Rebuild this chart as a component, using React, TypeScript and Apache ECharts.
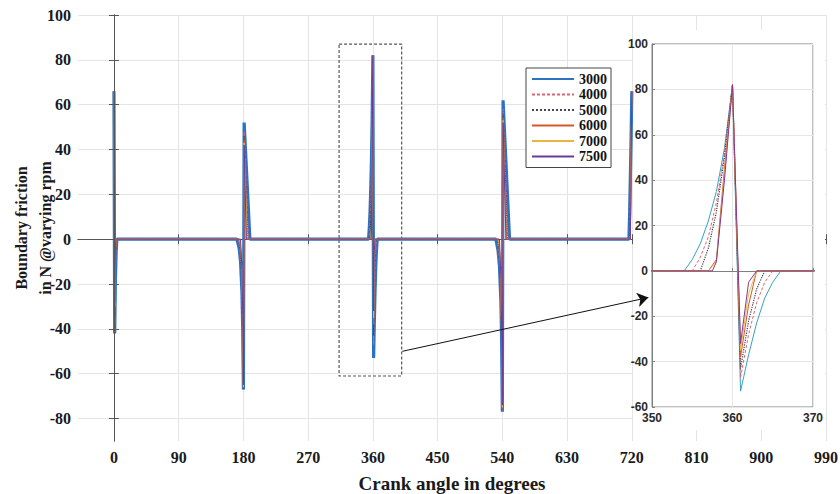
import React, { useEffect, useRef } from "react";
import * as echarts from "echarts";

// Crank angle ticks (deg) and force ticks (N)
const xTicks = [0, 90, 180, 270, 360, 450, 540, 630, 720, 810, 900, 990];
const yTicks = [-80, -60, -40, -20, 0, 20, 40, 60, 80, 100];

const seriesNames = ["3000", "4000", "5000", "6000", "7000", "7500"];

// [crank angle, boundary friction N]
const s3000 = [
  [0, 66], [1, -42], [2, -18], [3, -6], [4, 0],
  [171, 0], [174, -4], [176, -10], [178, -24], [179, -40], [180, -67], [181, 52], [189, 0],
  [354, 0], [355, 5], [356, 12], [357, 22], [358, 35], [359, 54], [360, 82],
  [361, -53], [362, -37], [363, -23], [364, -12], [365, -5], [366, 0],
  [531, 0], [534, -5], [536, -12], [538, -28], [539, -45], [540, -77], [541, 62], [550, 0],
  [716, 0], [717, 12], [718, 28], [719, 45], [720, 66],
];
const s4000 = [
  [0, 66], [1, -38], [2, -14], [3, -3], [4, 0],
  [173, 0], [175, -5], [177, -12], [178, -25], [179, -42], [180, -67], [181, 48], [187, 0],
  [355, 0], [356, 6], [357, 15], [358, 30], [359, 52], [360, 82],
  [361, -47], [362, -28], [363, -14], [364, -5], [365, 0],
  [533, 0], [535, -6], [537, -14], [538, -28], [539, -48], [540, -76], [541, 58], [548, 0],
  [717, 0], [718, 20], [719, 42], [720, 66],
];
const s5000 = [
  [0, 66], [1, -35], [2, -10], [3, 0],
  [174, 0], [176, -6], [178, -20], [179, -40], [180, -67], [181, 46], [186, 0],
  [356, 0], [357, 10], [358, 26], [359, 50], [360, 82],
  [361, -43], [362, -22], [363, -8], [364, 0],
  [534, 0], [536, -8], [538, -25], [539, -46], [540, -76], [541, 56], [547, 0],
  [717, 0], [718, 15], [719, 40], [720, 66],
];
const s6000 = [
  [0, 66], [1, -32], [2, -6], [3, 0],
  [175, 0], [177, -8], [178, -18], [179, -38], [180, -66], [181, 44], [185, 0],
  [357, 0], [358, 5], [359, 45], [360, 82],
  [361, -38], [362, -15], [363, 0],
  [535, 0], [537, -10], [538, -22], [539, -44], [540, -75], [541, 54], [546, 0],
  [718, 0], [719, 36], [720, 66],
];
const s7000 = [
  [0, 66], [1, -30], [2, -4], [3, 0],
  [175, 0], [177, -6], [178, -16], [179, -36], [180, -66], [181, 43], [185, 0],
  [357, 0], [358, 4], [359, 42], [360, 82],
  [361, -35], [362, -10], [363, 0],
  [535, 0], [537, -8], [538, -20], [539, -42], [540, -75], [541, 53], [545, 0],
  [718, 0], [719, 34], [720, 66],
];
const s7500 = [
  [0, 66], [1, -28], [2, -3], [3, 0],
  [176, 0], [178, -14], [179, -34], [180, -65], [181, 42], [184, 0],
  [357.5, 0], [358, 4], [359, 40], [360, 82],
  [361, -32], [362, -5], [363, 0],
  [536, 0], [538, -18], [539, -40], [540, -74], [541, 52], [545, 0],
  [718, 0], [719, 32], [720, 66],
];
const seriesData = [s3000, s4000, s5000, s6000, s7000, s7500];

// Zoom box (deg, N) and arrow from it to the inset
const zoomBox = [[313, 87], [400, -61]];
const arrowLine = [[401, -50], [743, -26]];

const mainStyles = [
  { color: "#2c72c2", width: 3.2, type: "solid" },
  { color: "#dc6474", width: 1, type: [3, 2] },
  { color: "#44445a", width: 1.1, type: "dotted" },
  { color: "#d4582a", width: 1, type: "solid" },
  { color: "#e8b540", width: 1, type: "solid" },
  { color: "#6a3a98", width: 1, type: "solid" },
];
const insetStyles = [
  { color: "#3ba0bd", width: 1, type: "solid" },
  { color: "#dc6474", width: 1, type: [3, 2] },
  { color: "#3a3a4a", width: 1.2, type: "dotted" },
  { color: "#cf5a2a", width: 1, type: "solid" },
  { color: "#ebbb50", width: 1, type: "solid" },
  { color: "#86388f", width: 1, type: "solid" },
];

const serif = "'Liberation Serif', 'Times New Roman', serif";
const sans = "'Liberation Sans', Arial, sans-serif";

function buildOption() {
  const mainSeries = seriesNames.map((n, i) => ({
    name: n,
    type: "line",
    xAxisIndex: 0,
    yAxisIndex: 0,
    data: seriesData[i],
    showSymbol: false,
    symbol: "none",
    lineStyle: mainStyles[i],
    itemStyle: { color: mainStyles[i].color },
    z: 2,
  }));
  const insetSeries = seriesNames.map((n, i) => ({
    name: n,
    type: "line",
    xAxisIndex: 2,
    yAxisIndex: 2,
    data: seriesData[i],
    showSymbol: false,
    symbol: "none",
    clip: true,
    lineStyle: insetStyles[i],
    itemStyle: { color: insetStyles[i].color },
    z: 5,
  }));
  const annot = {
    name: "annot",
    type: "line",
    xAxisIndex: 0,
    yAxisIndex: 0,
    data: [],
    z: 10,
    silent: true,
    markArea: {
      silent: true,
      itemStyle: {
        color: "rgba(0,0,0,0)",
        borderColor: "#555",
        borderWidth: 1.2,
        borderType: [3, 2],
      },
      data: [[{ coord: zoomBox[0] }, { coord: zoomBox[1] }]],
    },
    markLine: {
      silent: true,
      symbol: ["none", "arrow"],
      symbolSize: 11,
      label: { show: false },
      lineStyle: { color: "#111", width: 1, type: "solid" },
      itemStyle: { color: "#111" },
      data: [[{ coord: arrowLine[0] }, { coord: arrowLine[1] }]],
    },
  };

  const mainTick = { inside: true, length: 5, lineStyle: { color: "#555" } };
  const mainLabel = {
    fontFamily: serif,
    fontWeight: "bold",
    fontSize: 16,
    color: "#1a1a1a",
  };
  const grid0Split = { show: true, lineStyle: { color: "#e4e4e4", width: 1 } };

  return {
    animation: false,
    backgroundColor: "#ffffff",
    grid: [
      { left: 78, top: 15, width: 748, height: 426, containLabel: false, outerBoundsMode: "none" },
      {
        left: 652, top: 44, width: 161, height: 363, containLabel: false, outerBoundsMode: "none",
        show: true, borderColor: "#808080", borderWidth: 1, backgroundColor: "rgba(0,0,0,0)", z: 3,
      },
    ],
    legend: {
      data: seriesNames,
      orient: "vertical",
      left: 526,
      top: 68,
      backgroundColor: "#ffffff",
      borderColor: "#444",
      borderWidth: 1,
      borderRadius: 0,
      padding: [4, 4, 4, 5],
      itemWidth: 42,
      itemHeight: 9,
      itemGap: 1.5,
      align: "left",
      z: 8,
      itemStyle: { opacity: 0 },
      textStyle: {
        fontFamily: serif,
        fontWeight: "bold",
        fontSize: 14,
        lineHeight: 12,
        height: 12,
        color: "#111",
      },
    },
    graphic: [
      {
        type: "rect",
        shape: { x: 633, y: 30, width: 192, height: 400 },
        style: { fill: "#ffffff" },
        z: 1,
        silent: true,
      },
    ],
    xAxis: [
      {
        type: "value",
        gridIndex: 0,
        min: -50,
        max: 990,
        position: "bottom",
        name: "Crank angle in degrees",
        nameLocation: "middle",
        nameGap: 33,
        nameMoveOverlap: false,
        nameTextStyle: { fontFamily: serif, fontWeight: "bold", fontSize: 19, color: "#1a1a1a" },
        axisLine: { show: true, lineStyle: { color: "#555" } },
        axisTick: { ...mainTick, customValues: xTicks },
        axisLabel: { ...mainLabel, margin: 8, customValues: xTicks },
        splitLine: grid0Split,
      },
      {
        type: "value",
        gridIndex: 0,
        min: -50,
        max: 990,
        position: "top",
        axisLine: { show: true, lineStyle: { color: "#555" } },
        axisTick: { ...mainTick, customValues: xTicks },
        axisLabel: { show: false, customValues: xTicks },
        splitLine: { show: false },
      },
      {
        type: "value",
        gridIndex: 1,
        min: 350,
        max: 370,
        interval: 10,
        position: "bottom",
        z: 4,
        axisLine: { show: true, lineStyle: { color: "#808080" } },
        axisTick: { inside: true, length: 3, lineStyle: { color: "#808080" } },
        axisLabel: { fontFamily: sans, fontWeight: "bold", fontSize: 12, color: "#2a2a2a", margin: 5 },
        splitLine: { show: true, lineStyle: { color: "#e6e6e6" } },
      },
    ],
    yAxis: [
      {
        type: "value",
        gridIndex: 0,
        min: -90,
        max: 100,
        position: "left",
        name: "Boundary friction\nin N @varying rpm",
        nameLocation: "middle",
        nameRotate: 90,
        nameGap: 21,
        nameMoveOverlap: false,
        nameTextStyle: {
          fontFamily: serif,
          fontWeight: "bold",
          fontSize: 16,
          lineHeight: 24,
          color: "#1a1a1a",
        },
        axisLine: { show: true, lineStyle: { color: "#555" } },
        axisTick: { ...mainTick, customValues: yTicks },
        axisLabel: { ...mainLabel, margin: 7, customValues: yTicks },
        splitLine: grid0Split,
      },
      {
        type: "value",
        gridIndex: 0,
        min: -90,
        max: 100,
        position: "right",
        z: 4,
        axisLine: { show: true, lineStyle: { color: "#555" } },
        axisTick: { ...mainTick, customValues: yTicks },
        axisLabel: { show: false, customValues: yTicks },
        splitLine: { show: false },
      },
      {
        type: "value",
        gridIndex: 1,
        min: -60,
        max: 100,
        interval: 20,
        position: "left",
        z: 4,
        axisLine: { show: true, lineStyle: { color: "#808080" } },
        axisTick: { inside: true, length: 3, lineStyle: { color: "#808080" } },
        axisLabel: { fontFamily: sans, fontWeight: "bold", fontSize: 12, color: "#2a2a2a", margin: 4 },
        splitLine: { show: true, lineStyle: { color: "#e6e6e6" } },
      },
    ],
    series: [...mainSeries, ...insetSeries, annot],
  };
}

export default function App() {
  const ref = useRef<HTMLDivElement>(null);
  useEffect(() => {
    if (!ref.current) return;
    const chart = echarts.init(ref.current, null, { renderer: "svg" });
    chart.setOption(buildOption() as any);
    return () => chart.dispose();
  }, []);
  return (
    <div
      ref={ref}
      style={{ position: "fixed", left: 0, top: 0, width: 840, height: 494 }}
    />
  );
}
